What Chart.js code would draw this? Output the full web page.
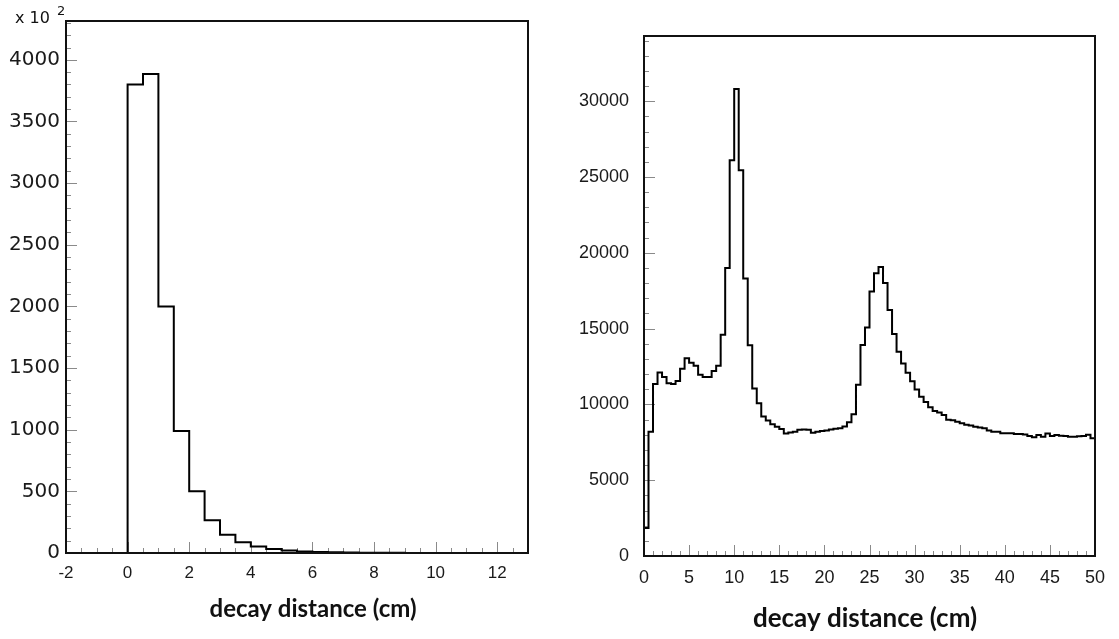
<!DOCTYPE html>
<html>
<head>
<meta charset="utf-8">
<script src="https://cdn.jsdelivr.net/npm/chart.js@4.4.1/dist/chart.umd.min.js"></script>
<style>
  body { margin: 0; background: #fff; }
  canvas { position: absolute; top: 0; }
  #left { left: 0; }
  #right { left: 560px; }
</style>
</head>
<body>
<canvas id="left" width="560" height="639"></canvas>
<canvas id="right" width="559" height="639"></canvas>
<script>
// left panel: decay distance, bins of 0.5 cm starting at -2 (counts in units of 10^2)
const leftStart = -2;
const leftBinWidth = 0.5;
const leftCounts = [
    0, 0, 0, 0,
    3800, 3885, 2000, 990, 500, 265, 148, 88, 52, 32,
    20, 13, 9, 6, 4, 3, 2, 1.5, 1, 0.8,
    0.5, 0.4, 0.3, 0.2, 0.15, 0.1
];
const leftXTicks = [-2, 0, 2, 4, 6, 8, 10, 12];
const leftYTicks = [0, 500, 1000, 1500, 2000, 2500, 3000, 3500, 4000];

// right panel: bins of 0.5 cm from 0 to 50
const rightStart = 0;
const rightBinWidth = 0.5;
const rightCounts = [
    1850, 8200, 11350, 12100, 11800, 11400, 11350, 11550, 12350, 13050,
    12750, 12550, 11950, 11800, 11800, 12200, 12550, 14600, 19000, 26100,
    30800, 25450, 18300, 13900, 11050, 10070, 9200, 8930, 8690, 8530,
    8380, 8080, 8150, 8200, 8330, 8350, 8330, 8130, 8200, 8250,
    8280, 8350, 8400, 8430, 8550, 8820, 9350, 11300, 13920, 15080,
    17440, 18650, 19060, 18000, 16230, 14640, 13480, 12690, 12080, 11520,
    10980, 10500, 10150, 9820, 9570, 9470, 9300, 8980, 8950, 8860,
    8750, 8650, 8600, 8530, 8480, 8420, 8280, 8200, 8200, 8100,
    8090, 8100, 8050, 8050, 8020, 7920, 7830, 7980, 7870, 8080,
    7920, 7980, 7940, 7920, 7870, 7870, 7900, 7920, 7990, 7760
];
const rightXTicks = [0, 5, 10, 15, 20, 25, 30, 35, 40, 45, 50];
const rightYTicks = [0, 5000, 10000, 15000, 20000, 25000, 30000];

const xTitle = "decay distance (cm)";

// turn bin contents into step points (value holds until next bin edge)
function histPoints(start, width, counts) {
    const pts = counts.map((c, i) => ({ x: start + i * width, y: c }));
    pts.push({ x: start + counts.length * width, y: counts[counts.length - 1] });
    return pts;
}

// ROOT-like frame: inward ticks, black box, axis title, optional exponent label
function rootFrame(opt) {
    return {
        id: 'rootFrame',
        beforeDatasetsDraw(chart) {
            const { ctx, chartArea: a, scales: { x, y } } = chart;
            ctx.save();
            ctx.strokeStyle = '#8a8a8a';
            ctx.lineWidth = 1;
            ctx.beginPath();
            const nx = Math.round((x.max - x.min) / opt.xMinor);
            for (let i = 0; i <= nx; i++) {
                const v = x.min + i * opt.xMinor;
                const px = Math.round(x.getPixelForValue(v)) + 0.5;
                const r = v / opt.xMajor;
                const len = Math.abs(r - Math.round(r)) < 1e-6 ? 11 : 5;
                ctx.moveTo(px, a.bottom);
                ctx.lineTo(px, a.bottom - len);
            }
            const ny = Math.floor((y.max - y.min) / opt.yMinor);
            for (let i = 0; i <= ny; i++) {
                const v = y.min + i * opt.yMinor;
                const py = Math.round(y.getPixelForValue(v)) + 0.5;
                const len = (v % opt.yMajor) === 0 ? 11 : 5;
                ctx.moveTo(a.left, py);
                ctx.lineTo(a.left + len, py);
            }
            ctx.stroke();
            ctx.restore();
        },
        afterDatasetsDraw(chart) {
            const { ctx, chartArea: a } = chart;
            ctx.save();
            ctx.strokeStyle = '#111';
            ctx.lineWidth = 2;
            ctx.strokeRect(a.left, a.top, a.right - a.left, a.bottom - a.top);

            ctx.fillStyle = '#111';
            ctx.textAlign = 'center';
            ctx.textBaseline = 'alphabetic';
            ctx.font = 'bold ' + opt.titleSize + 'px Lato';
            ctx.fillText(xTitle, opt.titleX, opt.titleY);

            if (opt.exponent) {
                ctx.textAlign = 'left';
                ctx.font = '16px "DejaVu Sans"';
                ctx.fillText('x 10', 15, 23);
                ctx.font = '13px "DejaVu Sans"';
                ctx.fillText(opt.exponent, 57, 15);
            }
            ctx.restore();
        }
    };
}

function makeChart(id, d) {
    return new Chart(document.getElementById(id), {
        type: 'line',
        data: {
            datasets: [{
                data: histPoints(d.start, d.width, d.counts),
                stepped: 'before',
                borderColor: '#000',
                borderWidth: 2,
                pointRadius: 0,
                fill: false,
                tension: 0
            }]
        },
        options: {
            responsive: false,
            animation: false,
            devicePixelRatio: 1,
            layout: { padding: d.padding },
            plugins: { legend: { display: false }, tooltip: { enabled: false } },
            scales: {
                x: {
                    type: 'linear',
                    min: d.xMin,
                    max: d.xMax,
                    grid: { display: false, drawTicks: false },
                    border: { display: false },
                    ticks: {
                        color: '#1a1a1a',
                        font: { family: 'Liberation Sans', size: d.xFont },
                        padding: d.xPad,
                        maxRotation: 0,
                        callback: v => String(v)
                    },
                    afterBuildTicks: s => { s.ticks = d.xTicks.map(v => ({ value: v })); },
                    afterFit: s => { s.height = d.xHeight; }
                },
                y: {
                    min: 0,
                    max: d.yMax,
                    grid: { display: false, drawTicks: false },
                    border: { display: false },
                    ticks: {
                        color: '#1a1a1a',
                        font: { family: d.yFamily, size: d.yFont },
                        padding: d.yPad,
                        callback: v => String(v)
                    },
                    afterBuildTicks: s => { s.ticks = d.yTicks.map(v => ({ value: v })); },
                    afterFit: s => { s.width = d.yWidth; }
                }
            }
        },
        plugins: [rootFrame(d.frame)]
    });
}

makeChart('left', {
    start: leftStart, width: leftBinWidth, counts: leftCounts,
    xMin: -2, xMax: 13, yMax: 4315,
    xTicks: leftXTicks, yTicks: leftYTicks,
    padding: { left: 0, top: 21, right: 32, bottom: 0 },
    xHeight: 86, yWidth: 66,
    xFont: 17, xPad: 10,
    yFamily: 'DejaVu Sans', yFont: 20, yPad: 6,
    frame: { xMinor: 0.5, xMajor: 2, yMinor: 100, yMajor: 500,
             titleX: 313, titleY: 617, titleSize: 24, exponent: '2' }
});

makeChart('right', {
    start: rightStart, width: rightBinWidth, counts: rightCounts,
    xMin: 0, xMax: 50, yMax: 34300,
    xTicks: rightXTicks, yTicks: rightYTicks,
    padding: { left: 0, top: 36, right: 24, bottom: 0 },
    xHeight: 83, yWidth: 84,
    xFont: 18, xPad: 11,
    yFamily: 'Liberation Sans', yFont: 18, yPad: 15,
    frame: { xMinor: 1, xMajor: 5, yMinor: 1000, yMajor: 5000,
             titleX: 305, titleY: 627, titleSize: 26 }
});
</script>
</body>
</html>
